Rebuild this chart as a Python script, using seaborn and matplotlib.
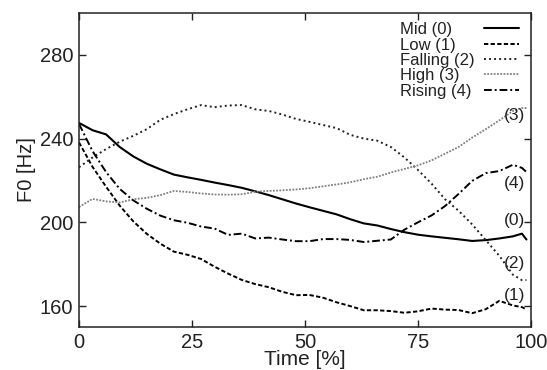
import numpy as np
import pandas as pd
import matplotlib
matplotlib.use("Agg")
import matplotlib.pyplot as plt
from matplotlib.offsetbox import HPacker, DrawingArea
import seaborn as sns

# ---- data ----
time = [0, 3, 6, 9, 12, 15, 18, 21, 24, 27, 30, 33, 36, 39, 42, 45, 48, 51, 54,
        57, 60, 63, 66, 69, 72, 75, 78, 81, 84, 87, 90, 93, 96, 98, 99]
mid = [247.5, 244, 242, 236, 231.5, 228, 225.3, 222.8, 221.5, 220.3, 219, 217.8,
       216.5, 214.8, 213, 211, 209, 207.2, 205.5, 203.8, 201.5, 199.5, 198.5,
       196.8, 195.3, 194.1, 193.3, 192.6, 191.9, 191.1, 191.5, 192.3, 193.3,
       194.6, 191.8]
low = [238.2, 226.5, 217, 208, 200.5, 194.5, 189.8, 186, 184.5, 182.5, 178.8,
       175.5, 172.5, 170.5, 169, 166.8, 165.2, 165.3, 164, 161.8, 160, 158, 158,
       157.6, 156.8, 157.5, 158.8, 158.3, 158.1, 156.6, 158.5, 162.5, 160.3,
       159.5, 158.4]
falling = [226.3, 231, 235, 238.5, 241.3, 244.5, 249, 251.7, 254, 256, 255,
           255.8, 256, 254, 253.2, 251.5, 249.4, 248, 246.5, 245, 241.8, 240,
           239, 236, 231, 225, 218.5, 211, 205.5, 199, 191.5, 184, 175, 172.4,
           172.4]
high = [207.3, 211.2, 210, 209.5, 211, 211.7, 213, 215, 214.5, 213.8, 213.3,
        213.2, 213.4, 214.6, 215, 215.3, 215.7, 216.3, 217.2, 218.1, 219.1, 220.6,
        221.8, 223.8, 225.5, 227.2, 229.6, 232.8, 236, 240.5, 244.5, 248.7, 253.2,
        254.6, 254.6]
rising = [247, 234, 224, 216, 210.5, 206.5, 203.2, 201, 199.8, 198, 197, 194,
          194.6, 192.3, 192.7, 191.8, 191, 191, 192, 192, 191.6, 190.6, 191.2,
          191.8, 196.5, 200, 203.3, 207.8, 213.6, 219.8, 223.5, 224.5, 227.5,
          226, 224]

labels = ["Mid (0)", "Low (1)", "Falling (2)", "High (3)", "Rising (4)"]
end_tags = ["(0)", "(1)", "(2)", "(3)", "(4)"]
end_tag_y = [201, 165.2, 180.5, 251, 218.6]
x_ticks = [0, 25, 50, 75, 100]
y_ticks = [160, 200, 240, 280]

series = [mid, low, falling, high, rising]

sns.set_theme(style="ticks")
plt.rcParams['font.family'] = ['Liberation Sans', 'DejaVu Sans']
plt.rcParams['text.color'] = '#222222'
plt.rcParams['axes.labelcolor'] = '#222222'
plt.rcParams['xtick.color'] = '#222222'
plt.rcParams['ytick.color'] = '#222222'

fig = plt.figure(figsize=(5.47, 3.70), dpi=100)
ax = fig.add_axes([0.1444, 0.1162, 0.8263, 0.8487])

styles = [
    dict(color='black', lw=1.5, ls='-'),
    dict(color='black', lw=1.4, ls=(0, (2.2, 1.2))),
    dict(color='#222222', lw=1.4, ls=(0, (1, 1.6))),
    dict(color='#808080', lw=1.3, ls=(0, (1, 0.8))),
    dict(color='black', lw=1.4, ls=(0, (4, 1.5, 1, 1.5))),
]

for vals, lab, st in zip(series, labels, styles):
    df = pd.DataFrame({"Time": time, "F0": vals})
    sns.lineplot(data=df, x="Time", y="F0", ax=ax, label=lab,
                 color=st['color'], linewidth=st['lw'], linestyle=st['ls'])

for tag, ty in zip(end_tags, end_tag_y):
    ax.text(98.8, ty, tag, ha='right', va='center', fontsize=12.5)

ax.set_xlim(0, 100)
ax.set_ylim(150, 300)
ax.set_xticks(x_ticks)
ax.set_yticks(y_ticks)
ax.tick_params(direction='in', length=5, width=1, top=True, right=True,
               labelsize=14.5, pad=4)
for sp in ax.spines.values():
    sp.set_linewidth(1.1)
    sp.set_color('#222222')

ax.set_xlabel("Time [%]", fontsize=15, labelpad=-1)
ax.set_ylabel("F0 [Hz]", fontsize=14.5, labelpad=3)

leg = ax.legend(loc='upper right', bbox_to_anchor=(0.977, 0.976),
                frameon=False, markerfirst=False,
                fontsize=12, handlelength=2.08, labelspacing=0.02,
                borderpad=0.1, borderaxespad=0.0, handletextpad=0.6)

# left-align legend labels while keeping the line samples on the right
try:
    renderer = fig.canvas.get_renderer()
    col = leg._legend_handle_box.get_children()[0]
    rows = col.get_children()
    widths = [r.get_children()[0].get_bbox(renderer).width for r in rows]
    wmax = max(widths)
    for r, w in zip(rows, widths):
        t, h = r.get_children()
        spacer = DrawingArea((wmax - w) * 72.0 / fig.dpi, 0)
        wrap = HPacker(pad=0, sep=0, align="baseline", children=[t, spacer])
        wrap.set_figure(fig)
        spacer.set_figure(fig)
        r._children = [wrap, h]
except Exception:
    pass

fig.savefig("out.png", dpi=100)
